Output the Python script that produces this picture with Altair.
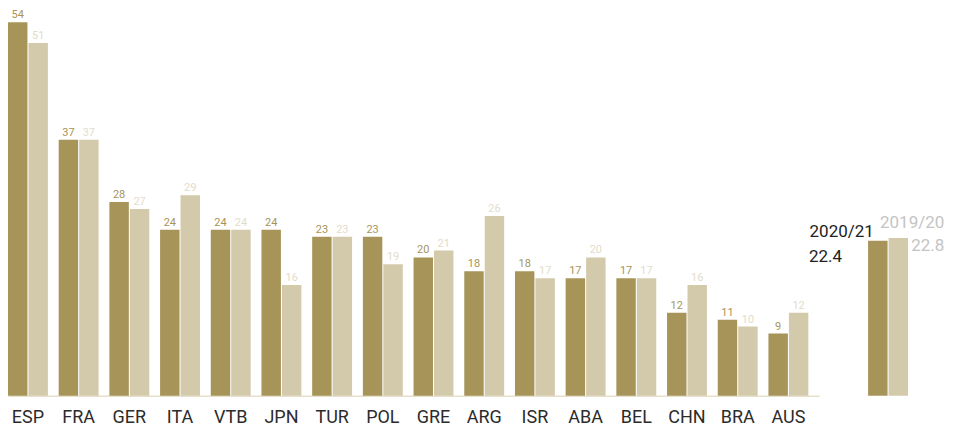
import altair as alt
import pandas as pd

countries = ["ESP", "FRA", "GER", "ITA", "VTB", "JPN", "TUR", "POL", "GRE",
             "ARG", "ISR", "ABA", "BEL", "CHN", "BRA", "AUS"]
season_2021 = [54, 37, 28, 24, 24, 24, 23, 23, 20, 18, 18, 17, 17, 12, 11, 9]
season_1920 = [51, 37, 27, 29, 24, 16, 23, 19, 21, 26, 17, 20, 17, 16, 10, 12]
series = ["2020/21", "2019/20"]
averages = [22.4, 22.8]

rows = []
for c, a, b in zip(countries, season_2021, season_1920):
    rows.append({"country": c, "season": series[0], "value": a})
    rows.append({"country": c, "season": series[1], "value": b})
df = pd.DataFrame(rows)
sdf = pd.DataFrame({"season": series, "value": averages})

FONT = "Roboto"
DARK = "#A69459"
LIGHT = "#D3C9AB"

yscale = alt.Scale(domain=[0, 54], nice=False, zero=True)
color = alt.Color("season:N", scale=alt.Scale(domain=series, range=[DARK, LIGHT]), legend=None)

base = alt.Chart(df).encode(
    x=alt.X("country:N", sort=countries,
            scale=alt.Scale(paddingInner=0.213, paddingOuter=0.1065, align=0),
            axis=alt.Axis(title=None, ticks=False, domainColor="#E6DFCC", domainWidth=1.5,
                          labelFont=FONT, labelFontSize=18, labelColor="#2b2b2b",
                          labelPadding=13, labelAngle=0)),
    xOffset=alt.XOffset("season:N", sort=series,
                        scale=alt.Scale(paddingInner=0.05, paddingOuter=0)),
    y=alt.Y("value:Q", scale=yscale, axis=None),
)
bars = base.mark_bar().encode(color=color)
labels = base.mark_text(baseline="bottom", dy=-2, font=FONT, fontSize=11).encode(
    text="value:Q",
    color=alt.condition(alt.datum.season == series[0], alt.value(DARK), alt.value("#E3DCCB")),
)
main = alt.layer(bars, labels).properties(width=812, height=374)

sbase = alt.Chart(sdf).encode(
    x=alt.X("season:N", sort=series,
            scale=alt.Scale(paddingInner=0.05, paddingOuter=0), axis=None),
    y=alt.Y("value:Q", scale=yscale, axis=None),
)
sbars = sbase.mark_bar().encode(color=color)
dark_lbl = sbase.transform_filter(alt.datum.season == series[0]).mark_text(
    align="right", baseline="alphabetic", dx=-4, dy=-4, font=FONT, fontSize=17, color="#222222"
).encode(text="season:N")
dark_val = sbase.transform_filter(alt.datum.season == series[0]).mark_text(
    align="left", baseline="alphabetic", dx=-69, dy=21, font=FONT, fontSize=17, color="#222222"
).encode(text=alt.Text("value:Q", format=".1f"))
light_lbl = sbase.transform_filter(alt.datum.season == series[1]).mark_text(
    align="right", baseline="alphabetic", dx=46, dy=-10, font=FONT, fontSize=17, color="#C4C4C4"
).encode(text="season:N")
light_val = sbase.transform_filter(alt.datum.season == series[1]).mark_text(
    align="right", baseline="alphabetic", dx=46, dy=13, font=FONT, fontSize=17, color="#C4C4C4"
).encode(text=alt.Text("value:Q", format=".1f"))
summary = alt.layer(sbars, dark_lbl, dark_val, light_lbl, light_val).properties(width=40, height=374)

chart = alt.hconcat(main, summary, spacing=49, bounds="flush").configure_view(
    stroke=None
).properties(padding={"left": 0, "top": 1, "right": 0, "bottom": 0})

chart.save("out.html", embed_options={"renderer": "svg", "actions": False})
